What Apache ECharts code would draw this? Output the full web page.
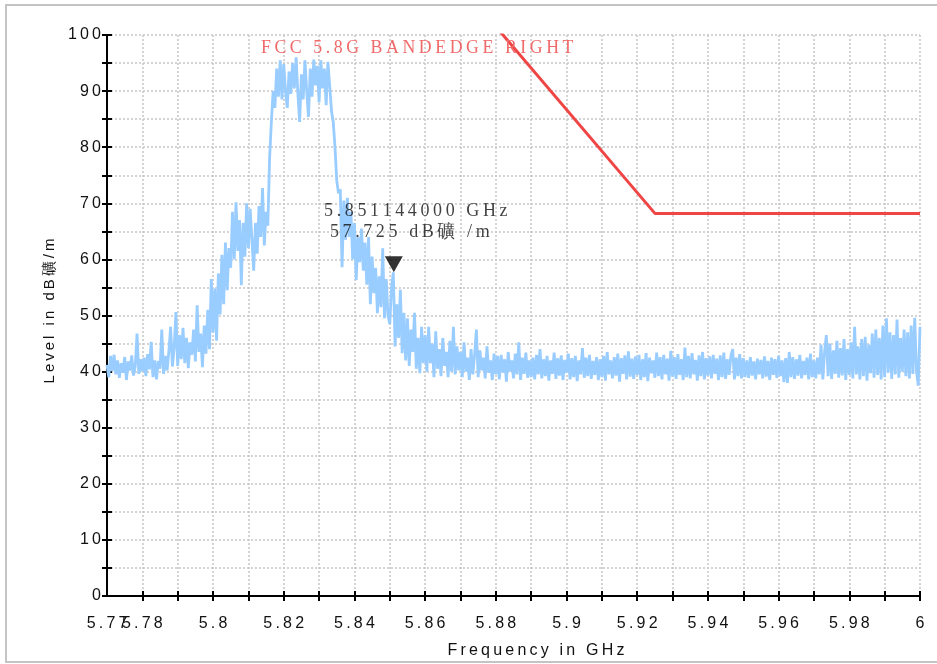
<!DOCTYPE html>
<html>
<head>
<meta charset="utf-8">
<script src="https://cdn.jsdelivr.net/npm/echarts@6/dist/echarts.min.js"></script>
<style>
html,body{margin:0;padding:0;background:#fff;}
#main{width:937px;height:664px;}
</style>
</head>
<body>
<div id="main"></div>
<script>
// ---- data ----
const freqStartGHz = 5.770;
const freqStepGHz = 0.0005;
const traceLevels = [
41.2,39.0,42.8,40.1,43.0,39.5,42.0,38.9,41.5,39.8,42.6,38.5,41.8,40.2,42.9,39.3,41.0,46.8,39.6,42.2,
40.0,42.5,39.2,43.1,40.4,45.3,39.0,42.0,38.6,41.9,40.5,47.5,39.6,42.8,40.2,43.6,48.0,40.9,44.2,50.6,
41.0,46.5,42.2,47.8,41.5,46.0,40.6,45.2,43.0,47.5,41.8,51.8,43.5,46.8,40.8,48.2,43.2,51.0,44.0,56.5,
47.0,54.8,45.5,57.5,50.2,60.8,52.0,63.0,54.5,62.0,58.5,68.5,60.0,70.2,61.5,67.0,55.4,66.5,60.5,70.0,
62.0,69.0,63.5,58.0,66.5,61.0,69.5,64.0,72.7,62.5,68.5,66.0,78.0,84.5,90.0,87.0,94.0,89.0,95.5,88.5,
94.8,90.0,87.0,93.5,89.5,95.0,90.5,96.0,89.5,84.5,93.0,88.5,95.5,90.0,85.4,94.0,89.0,95.6,91.0,94.5,
88.0,95.5,90.5,94.0,87.5,95.2,91.0,86.5,84.5,80.0,74.0,71.8,72.5,58.6,70.5,63.5,71.0,64.0,68.5,60.0,
66.5,56.3,64.0,59.5,65.5,58.0,63.0,55.5,64.0,52.0,60.5,54.0,58.5,50.4,57.0,51.5,62.0,49.5,56.5,50.0,
48.5,55.0,57.7,44.5,52.0,46.0,54.6,43.3,50.5,42.0,49.5,41.0,47.5,43.5,50.5,40.5,46.0,39.7,48.0,41.5,
46.5,40.0,48.0,41.5,45.0,39.0,47.2,40.5,44.0,39.2,46.0,41.0,43.5,39.0,45.5,40.0,48.0,39.5,44.5,40.2,
43.5,39.0,45.2,40.0,42.5,38.5,44.0,39.5,43.0,47.5,39.0,43.8,40.2,42.5,38.8,44.5,39.8,42.0,38.5,43.2,
39.5,42.8,38.6,43.0,39.8,42.2,38.2,43.5,40.0,42.0,38.8,43.2,39.5,45.2,38.5,42.5,39.6,43.4,38.9,42.0,
39.0,42.5,38.6,43.0,39.5,44.0,38.8,42.2,39.2,42.8,38.4,42.0,39.6,43.4,38.7,42.4,39.3,42.9,38.5,42.1,
39.8,43.2,38.6,42.4,39.0,42.8,38.3,42.0,39.5,44.2,38.9,42.5,39.2,43.0,38.7,41.9,39.4,42.6,38.5,42.2,
39.0,42.8,38.4,43.5,39.5,42.0,38.8,42.6,39.3,43.2,38.2,42.4,39.6,42.9,38.6,43.6,39.1,42.3,38.7,42.7,
39.4,43.0,38.5,42.2,39.0,43.3,38.3,42.5,39.7,42.0,38.9,43.4,39.2,42.6,38.6,43.0,39.5,42.3,38.4,43.7,
39.1,42.6,38.7,43.1,39.4,42.2,38.5,44.3,39.0,42.8,38.8,43.3,39.5,42.1,38.4,42.9,39.2,43.5,38.6,42.4,
39.3,42.7,38.8,43.0,39.6,42.3,38.5,42.9,39.0,43.4,38.7,42.2,39.4,42.8,44.0,38.6,42.5,39.2,43.1,38.8,
42.4,39.0,42.0,38.9,42.6,39.3,41.8,38.6,42.3,39.5,42.1,38.8,42.7,39.1,41.9,38.5,42.5,39.4,42.2,38.9,
42.8,39.2,42.0,38.1,42.4,38.0,43.5,39.0,42.6,38.7,42.2,39.3,43.0,38.8,41.9,39.4,42.5,38.6,43.2,39.0,
42.0,38.8,42.5,39.5,44.8,38.6,43.5,46.5,39.2,45.0,38.7,43.8,39.6,45.5,38.9,44.2,39.3,45.8,38.5,44.0,
39.4,45.2,38.8,48.0,39.5,44.5,38.6,45.8,39.2,46.2,38.4,44.8,39.7,46.8,38.9,47.5,39.4,46.0,38.6,48.2,
39.0,49.5,39.8,47.0,38.7,46.5,39.5,49.3,38.9,46.0,40.0,47.5,39.2,47.0,38.8,48.2,39.6,49.6,40.2,37.5,48.0
];
const limitFreq = [5.875, 5.925, 6.000];
const limitLevel = [105.2, 68.2, 68.2];
const limitTitle = 'FCC 5.8G BANDEDGE RIGHT';
const markerFreq = 5.851144;
const markerLevel = 57.725;
const xTickLabels = ['5.77','5.78','5.8','5.82','5.84','5.86','5.88','5.9','5.92','5.94','5.96','5.98','6'];
const yTickLabels = ['0','10','20','30','40','50','60','70','80','90','100'];
const xName = 'Frequency in GHz';
const yName = 'Level in dB礦/m';

// ---- build ----
const SP = '\u2009';
function spaced(s, sp){ sp = sp || SP; return s.split('').join(sp); }
const traceData = traceLevels.map((v,i)=>[+(freqStartGHz + i*freqStepGHz).toFixed(4), v]);
const limitData = limitFreq.map((f,i)=>[f, limitLevel[i]]);

const sans = 'Liberation Sans, Arial, sans-serif';
const serif = 'Liberation Serif, Times New Roman, serif';
const gridLine = {show:true, lineStyle:{color:'#c6c6c6', width:1.5, type:[2,2]}};
const tickStyle = {color:'#000', width:2};
const xMin = parseFloat(xTickLabels[0]);

function match(v, list){
  for (const l of list){ if (Math.abs(v - parseFloat(l)) < 1e-7) return l; }
  return null;
}
// main axis: all labels except the first one
function xFmt(v){
  const l = match(v, xTickLabels.slice(1));
  return l ? spaced(l) : '';
}
// second axis: only the first label (drawn separately so overlap hiding keeps both)
function xFmtFirst(v){
  return Math.abs(v - xMin) < 1e-7 ? spaced(xTickLabels[0]) : '';
}
function yFmt(v){
  const l = match(v, yTickLabels);
  return l ? spaced(l) : '';
}

const xLabelStyle = {margin:20, fontFamily:sans, fontSize:16, color:'#111'};

const chart = echarts.init(document.getElementById('main'), null, {renderer:'canvas'});
chart.setOption({
  animation:false,
  backgroundColor:'#ffffff',
  title:{
    text: spaced(limitTitle), left:261, top:39, padding:0,
    textStyle:{fontFamily:serif, fontSize:17.8, fontWeight:'normal', color:'#f06a6a'}
  },
  grid:{left:107, right:17, top:35, bottom:68},
  graphic:[{type:'rect', silent:true, z:-10, shape:{x:6, y:5, width:940, height:657},
    style:{fill:null, stroke:'#c4c4c4', lineWidth:2}}],
  xAxis:[{
    type:'value', min:5.77, max:6.0, interval:0.01, position:'bottom',
    axisLine:{show:true, onZero:false, lineStyle:{color:'#000', width:2}},
    axisTick:{show:true, length:5, lineStyle:tickStyle},
    axisLabel:Object.assign({formatter:xFmt, showMinLabel:false, showMaxLabel:true}, xLabelStyle),
    splitLine:gridLine,
    name: spaced(xName), nameLocation:'middle', nameGap:47,
    nameTextStyle:{fontFamily:sans, fontSize:16, color:'#111', padding:[0,0,0,45]}
  },{
    type:'value', min:5.77, max:6.0, interval:0.01, position:'bottom',
    axisLine:{show:false}, axisTick:{show:true, inside:true, length:5, lineStyle:tickStyle},
    axisLabel:Object.assign({formatter:xFmtFirst, showMinLabel:true}, xLabelStyle),
    splitLine:{show:false}
  }],
  yAxis:[{
    type:'value', min:0, max:100, interval:5, position:'left',
    axisLine:{show:true, onZero:false, lineStyle:{color:'#000', width:2}},
    axisTick:{show:true, length:5, lineStyle:tickStyle},
    axisLabel:{margin:6, fontFamily:sans, fontSize:16, color:'#111', formatter:yFmt},
    splitLine:gridLine,
    name: spaced(yName), nameLocation:'middle', nameGap:50,
    nameTextStyle:{fontFamily:sans, fontSize:15, color:'#111', padding:[0,0,0,9]}
  },{
    type:'value', min:0, max:100, interval:5, position:'left',
    axisLine:{show:false}, axisTick:{show:true, inside:true, length:5, lineStyle:tickStyle},
    axisLabel:{show:false}, splitLine:{show:false}
  }],
  series:[{
    type:'line', name:'trace', data:traceData, showSymbol:false, symbol:'none',
    lineStyle:{color:'#99ccff', width:2.8}, z:2, clip:true
  },{
    type:'line', name:'limit', data:limitData, showSymbol:false, symbol:'none',
    lineStyle:{color:'#f04545', width:3}, z:3, clip:true
  },{
    type:'scatter', name:'marker', data:[[markerFreq, markerLevel]],
    symbol:'triangle', symbolRotate:180, symbolSize:[18,16], symbolOffset:[0,-8],
    itemStyle:{color:'#000'}, z:5,
    label:{show:true, position:'top', distance:13, offset:[22,0], align:'center',
      fontFamily:serif, fontSize:18, color:'#111', lineHeight:21,
      formatter: ()=> '{a|' + spaced(markerFreq.toFixed(9) + ' GHz') + '}\n{b|' +
        spaced(markerLevel.toFixed(3) + ' dB礦 /m') + '}',
      rich:{
        a:{fontFamily:serif, fontSize:18, color:'#111', lineHeight:21},
        b:{fontFamily:serif, fontSize:18, color:'#111', lineHeight:21, padding:[0,12,0,0]}
      }}
  }]
});
</script>
</body>
</html>
